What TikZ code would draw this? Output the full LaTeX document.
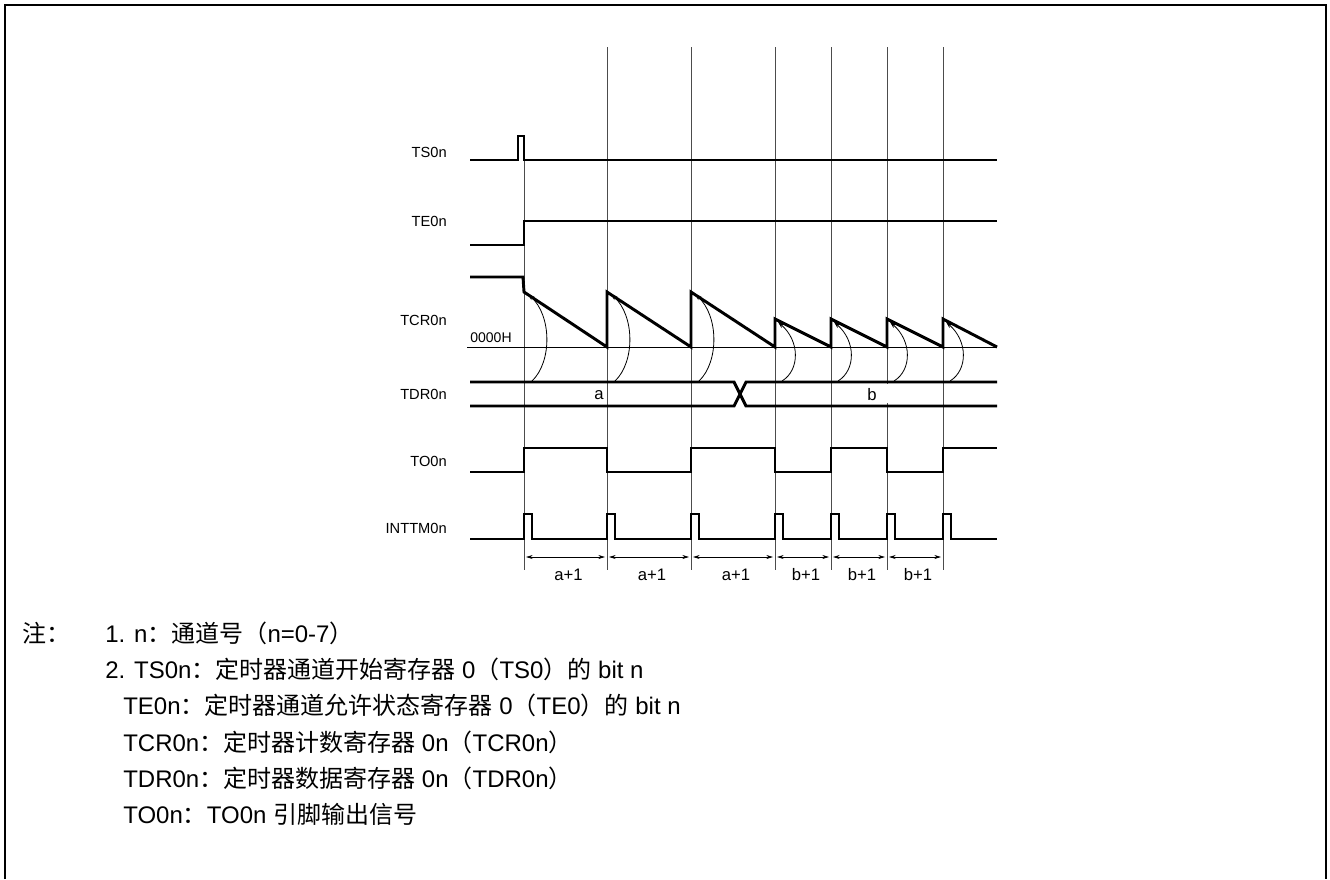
\documentclass[tikz,border=0pt]{standalone}
\usepackage{fontspec}
\setmainfont{Liberation Sans}
\newfontfamily\cjk{Noto Sans CJK SC}
\usetikzlibrary{arrows.meta}
\begin{document}
\begin{tikzpicture}[x=0.75pt,y=-0.75pt,
  sig/.style={line width=2.2pt, line join=miter},
  gridln/.style={line width=0.6pt, black!70},
  thinln/.style={line width=0.6pt, black},
  frame/.style={line width=2pt},
  lab/.style={anchor=east, inner sep=0pt, font=\fontsize{11}{12}\selectfont},
  dimlab/.style={inner sep=0pt, font=\fontsize{12.5}{13}\selectfont},
  note/.style={anchor=base west, inner sep=0pt, font=\fontsize{18}{20}\selectfont},
  tip/.style={-{Stealth[length=5pt,width=3.4pt]}},
  dtip/.style={{Stealth[length=5pt,width=3pt]}-{Stealth[length=5pt,width=3pt]}}
]
\useasboundingbox (0,0) rectangle (1330,879);
% frame
\draw[frame] (5,879) -- (5,5) -- (1326,5) -- (1326,879);

% vertical grid lines
\draw[gridln] (524,160) -- (524,570);
\foreach \x in {607,691,775,831,943} \draw[gridln] (\x,47) -- (\x,570);
\draw[gridln] (887,47) -- (887,384);
\draw[gridln] (887,403) -- (887,570);

% labels
\node[lab] (lts) at (447,152) {TS0n};
\node[lab] (lte) at (447,221) {TE0n};
\node[lab] (ltcr) at (447,320) {TCR0n};
\node[lab] (ltdr) at (447,394) {TDR0n};
\node[lab] (lto) at (447,461) {TO0n};
\node[lab] (lint) at (447,528) {INTTM0n};

% TS0n
\draw[sig] (470,160) -- (518,160) -- (518,136) -- (524,136) -- (524,160) -- (997,160);
% TE0n
\draw[sig] (470,245) -- (524,245) -- (524,221) -- (997,221);
% TCR0n
\draw[thinln] (467,347) -- (997,347);
\node[inner sep=0pt, font=\fontsize{10.5}{11}\selectfont] (zero) at (491,338) {0000H};
\draw[sig] (470,277) -- (523,277) -- (524,292) -- (607,347) -- (607,292) -- (691,347) -- (691,292) -- (775,347)
  -- (775,319) -- (831,347) -- (831,319) -- (887,347) -- (887,319) -- (943,347) -- (943,319) -- (997,347);
\foreach \x in {524,607,691}
  \draw[thinln,tip] (\x+8,381) .. controls (\x+28,362) and (\x+28,316) .. (\x+4,294);
\foreach \x in {775,831,887,943}
  \draw[thinln,tip] (\x+7,381) .. controls (\x+25,370) and (\x+25,341) .. (\x+3,322);
% TDR0n
\draw[sig] (470,382) -- (734,382) -- (746,406) -- (997,406);
\draw[sig] (470,406) -- (734,406) -- (746,382) -- (997,382);
\node[dimlab] (va) at (599,395) {a};
\node[dimlab] (vb) at (872,395) {b};
% TO0n
\draw[sig] (470,472) -- (524,472) -- (524,448) -- (607,448) -- (607,472) -- (691,472) -- (691,448) -- (775,448)
  -- (775,472) -- (831,472) -- (831,448) -- (887,448) -- (887,472) -- (943,472) -- (943,448) -- (997,448);
% INTTM0n
\draw[sig] (470,539) \foreach \x in {524,607,691,775,831,887,943} { -- (\x,539) -- (\x,514) -- (\x+8,514) -- (\x+8,539) } -- (997,539);
% dimension arrows
\foreach \a/\b/\t [count=\i] in {524/607/a+1, 607/691/a+1, 691/775/a+1, 775/831/b+1, 831/887/b+1, 887/943/b+1} {
  \draw[thinln,dtip] (\a+2,557) -- (\b-2,557);
  \node[dimlab] (d\i) at ({(\a+\b)/2+3},575) {\t};
}

% notes
\node[note] (n0) at (22,642) {{\cjk 注：}};
\node[note] (n1) at (105,642) {1. n{\cjk ：通道号（}n=0-7{\cjk ）}};
\node[note] (n2) at (105,678) {2. TS0n{\cjk ：定时器通道开始寄存器} 0{\cjk （}TS0{\cjk ）的} bit n};
\node[note] (n3) at (123,714) {TE0n{\cjk ：定时器通道允许状态寄存器} 0{\cjk （}TE0{\cjk ）的} bit n};
\node[note] (n4) at (123,751) {TCR0n{\cjk ：定时器计数寄存器} 0n{\cjk （}TCR0n{\cjk ）}};
\node[note] (n5) at (123,787) {TDR0n{\cjk ：定时器数据寄存器} 0n{\cjk （}TDR0n{\cjk ）}};
\node[note] (n6) at (123,823) {TO0n{\cjk ：}TO0n {\cjk 引脚输出信号}};
\end{tikzpicture}
\end{document}
